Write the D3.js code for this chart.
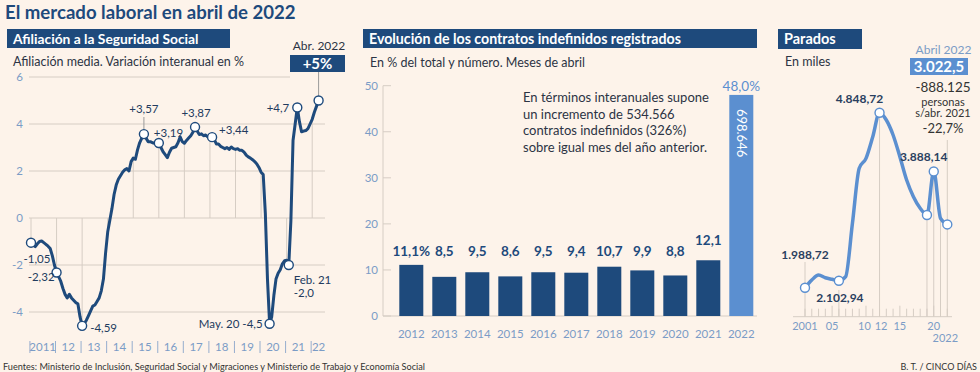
<!DOCTYPE html>
<html><head><meta charset="utf-8">
<script src="https://cdn.jsdelivr.net/npm/d3@7"></script>
<style>
body{margin:0;background:#fdf3ea;}
svg{display:block;font-family:Lato,"Open Sans",sans-serif;}
</style>
</head><body><svg id="c" width="980" height="372"></svg>
<script>
// ---------- DATA ----------
// Afiliación: variación interanual (%), mensual desde enero 2011 hasta abril 2022
const afilValues = [
 -1.05,-1.15,-1.22,-1.1,-1.0,-0.98,-1.05,-1.12,-1.2,-1.3,-1.6,-2.0,
 -2.32,-2.5,-2.7,-3.0,-3.25,-3.4,-3.25,-3.4,-3.5,-3.6,-3.65,-4.2,
 -4.59,-4.5,-4.35,-4.15,-3.95,-3.75,-3.7,-3.55,-3.4,-3.1,-2.6,-1.5,
 -0.6,-0.1,0.4,1.0,1.4,1.65,1.8,1.95,2.05,2.1,2.0,2.4,
 2.55,2.5,2.9,3.2,3.4,3.57,3.4,3.25,3.25,3.2,3.18,3.25,
 3.19,3.0,2.82,2.7,2.57,2.8,2.97,3.0,3.03,3.2,3.45,3.25,
 3.18,3.3,3.4,3.5,3.65,3.87,3.7,3.55,3.58,3.5,3.53,3.45,
 3.5,3.44,3.35,3.15,3.15,3.05,3.0,2.95,3.0,2.92,3.02,2.95,
 2.92,2.95,2.88,2.88,2.8,2.68,2.6,2.55,2.48,2.4,2.3,2.15,
 1.95,1.85,0.2,-2.6,-4.5,-4.2,-3.3,-2.6,-2.35,-2.2,-1.95,-1.82,
 -1.8,-2.0,-0.1,3.3,4.0,4.7,4.1,3.67,3.7,3.72,3.8,4.0,
 4.2,4.5,4.75,5.0
];
const afilYearLabels = ["2011","12","13","14","15","16","17","18","19","20","21","22"];
const afilTicks = [-4,-2,0,2,4,6];
const afilMarkIdx = [0,12,24,53,60,77,85,112,121,125,135];
const afilMarkText = ["-1,05","-2,32","-4,59","+3,57","+3,19","+3,87","+3,44","May. 20 -4,5","Feb. 21","+4,7",""];

const contYears = ["2012","2013","2014","2015","2016","2017","2018","2019","2020","2021","2022"];
const contPct = [11.1,8.5,9.5,8.6,9.5,9.4,10.7,9.9,8.8,12.1,48.0];
const contLabels = ["11,1%","8,5","9,5","8,6","9,5","9,4","10,7","9,9","8,8","12,1","48,0%"];
const contTicks = [0,10,20,30,40,50];

const parYears = [2001,2002,2003,2004,2005,2006,2007,2008,2009,2010,2011,2012,2013,2014,2015,2016,2017,2018,2019,2020,2021,2022];
const parValues = [1988.72,2114,2196,2152,2126,2102.94,2170,3041,3940,4103,4456,4848.72,4729,4484,4130,3749,3476,3286,3177,3888.14,3123,3022.5];
const parTickLabels = [{y:2001,t:"2001",dx:0},{y:2005,t:"05",dx:0},{y:2010,t:"10",dx:-1.5},{y:2012,t:"12",dx:1.5},{y:2015,t:"15",dx:0},{y:2020,t:"20",dx:0}];

// ---------- STYLE ----------
const DARK = "#1e4a7c", LIGHT = "#5b8fd0", AXT = "#7b9cc6", GRID = "#d6cdc4", TXT = "#2c3444";
const svg = d3.select("#c");
svg.append("rect").attr("width",980).attr("height",372).attr("fill","#fdf3ea");

// Title
svg.append("text").attr("x",5).attr("y",19).attr("fill",DARK)
  .attr("font-size",18.6).attr("font-weight",700).text("El mercado laboral en abril de 2022");

function header(x,w,h,label,fs){
  svg.append("rect").attr("x",x).attr("y",29).attr("width",w).attr("height",h).attr("fill",DARK);
  svg.append("text").attr("x",x+6).attr("y",29+h/2+5).attr("fill","#fff")
    .attr("font-size",fs).attr("font-weight",700).text(label);
}
header(7,223,19,"Afiliación a la Seguridad Social",13.8);
header(363,394,19,"Evolución de los contratos indefinidos registrados",14.2);
header(778,84,20,"Parados",14.5);

// ---------- LEFT PANEL ----------
const L = svg.append("g");
L.append("text").attr("x",13).attr("y",66).attr("fill",TXT).attr("font-size",12.5)
 .text("Afiliación media. Variación interanual en %");
const xA = d3.scaleLinear().domain([0,135]).range([31,318.6]);
const yA = d3.scaleLinear().domain([-4,6]).range([312,77]);

afilTicks.forEach(t=>{
  L.append("line").attr("x1",29).attr("x2",t===6?290:325).attr("y1",yA(t)).attr("y2",yA(t))
   .attr("stroke",GRID).attr("stroke-width",1);
  L.append("text").attr("x",23).attr("y",yA(t)+4).attr("text-anchor","end")
   .attr("fill",AXT).attr("font-size",11.5).text(t);
});
// year drop lines from zero to curve
for(let k=0;k<12;k++){
  const i=k*12;
  L.append("line").attr("x1",xA(i)).attr("x2",xA(i)).attr("y1",yA(0)).attr("y2",yA(afilValues[i]))
   .attr("stroke",GRID).attr("stroke-width",1);
}
// x-axis year labels and separators
afilYearLabels.forEach((lab,k)=>{
  const x0 = xA(k*12-0.5);
  L.append("line").attr("x1",x0).attr("x2",x0).attr("y1",341).attr("y2",353)
   .attr("stroke",AXT).attr("stroke-width",0.8);
  const cx = k===11 ? xA(k*12+3) : xA(k*12+5.5);
  L.append("text").attr("x",cx).attr("y",351).attr("text-anchor","middle")
   .attr("fill",AXT).attr("font-size",11.5).text(lab);
});

// leader lines
L.append("line").attr("x1",xA(53)).attr("x2",xA(53)).attr("y1",117).attr("y2",yA(3.57)-4)
 .attr("stroke","#9a9a9a").attr("stroke-width",1);
L.append("line").attr("x1",xA(135)).attr("x2",xA(135)).attr("y1",72).attr("y2",yA(5.0)-4)
 .attr("stroke","#9a9a9a").attr("stroke-width",1);

L.append("path").datum(afilValues)
 .attr("d",d3.line().x((d,i)=>xA(i)).y(d=>yA(d)))
 .attr("fill","none").attr("stroke",DARK).attr("stroke-width",3).attr("stroke-linejoin","round");

const markOff = [
  {dx:6,dy:20,a:"middle"},{dx:-2,dy:8,a:"end"},{dx:8,dy:6,a:"start"},
  {dx:0,dy:-21,a:"middle"},{dx:-5,dy:-6,a:"start"},{dx:1,dy:-10,a:"middle"},
  {dx:7,dy:-3,a:"start"},{dx:-7,dy:4,a:"end"},{dx:5,dy:19,a:"start"},
  {dx:-8,dy:4,a:"end"},{dx:0,dy:0,a:"start"}
];
afilMarkIdx.forEach((i,k)=>{
  const x=xA(i), y=yA(afilValues[i]);
  L.append("circle").attr("cx",x).attr("cy",y).attr("r",4.5)
   .attr("fill","#fff").attr("stroke",DARK).attr("stroke-width",1.4);
  const o=markOff[k];
  if(afilMarkText[k]) L.append("text").attr("x",x+o.dx).attr("y",y+o.dy).attr("text-anchor",o.a)
   .attr("fill","#223b5e").attr("font-size",11.5).text(afilMarkText[k]);
});
L.append("text").attr("x",xA(121)+5).attr("y",yA(-2.0)+32).attr("fill","#223b5e")
 .attr("font-size",11.5).text("-2,0");
// +5% box
L.append("text").attr("x",319).attr("y",50).attr("text-anchor","middle").attr("fill",TXT)
 .attr("font-size",12).text("Abr. 2022");
L.append("rect").attr("x",290).attr("y",55).attr("width",55).attr("height",17).attr("fill",DARK);
L.append("text").attr("x",317.5).attr("y",69).attr("text-anchor","middle").attr("fill","#fff")
 .attr("font-size",15).attr("font-weight",700).text("+5%");

// ---------- MIDDLE PANEL ----------
const M = svg.append("g");
M.append("text").attr("x",370).attr("y",67).attr("fill",TXT).attr("font-size",12.5)
 .text("En % del total y número. Meses de abril");
const xB = d3.scaleBand().domain(contYears).range([394.8,757.8]).paddingInner(0.2727).paddingOuter(0.13636);
const yB = d3.scaleLinear().domain([0,50]).range([316,85.7]);
M.append("line").attr("x1",383).attr("x2",383).attr("y1",yB(0)).attr("y2",yB(50)).attr("stroke",GRID);
contTicks.forEach(t=>{
  M.append("line").attr("x1",383).attr("x2",391).attr("y1",yB(t)).attr("y2",yB(t)).attr("stroke",GRID);
  M.append("text").attr("x",378).attr("y",yB(t)+4).attr("text-anchor","end")
   .attr("fill",AXT).attr("font-size",11.5).text(t);
});
M.append("line").attr("x1",383).attr("x2",757).attr("y1",yB(0)).attr("y2",yB(0)).attr("stroke",GRID);
M.selectAll("rect.bar").data(contYears).enter().append("rect")
 .attr("x",d=>xB(d)).attr("width",xB.bandwidth())
 .attr("y",(d,i)=>yB(contPct[i])).attr("height",(d,i)=>yB(0)-yB(contPct[i]))
 .attr("fill",(d,i)=>i===10?LIGHT:DARK);
contYears.forEach((d,i)=>{
  const cx = xB(d)+xB.bandwidth()/2;
  let y, fill=DARK, fw=700;
  if(i===10){ y=yB(contPct[i])-4; fill=LIGHT; fw=400; }
  else if(contPct[i]>12){ y=yB(contPct[i])-15; }
  else { y=255.5; }
  M.append("text").attr("x",cx).attr("y",y).attr("text-anchor","middle").attr("fill",fill)
   .attr("font-size",13.5).attr("font-weight",fw).text(contLabels[i]);
  M.append("text").attr("x",cx).attr("y",337.5).attr("text-anchor","middle")
   .attr("fill",AXT).attr("font-size",11.5).text(d);
});
const bx = xB("2022")+xB.bandwidth()/2;
M.append("text").attr("transform",`translate(${bx-4.5},${yB(48)+14}) rotate(90)`)
 .attr("fill","#fff").attr("font-size",13).text("698.646");
const note = ["En términos interanuales supone","un incremento de 534.566","contratos indefinidos (326%)","sobre igual mes del año anterior."];
note.forEach((t,k)=>{
  M.append("text").attr("x",523).attr("y",102+k*16.5).attr("fill",TXT).attr("font-size",13).text(t);
});

// ---------- RIGHT PANEL ----------
const R = svg.append("g");
R.append("text").attr("x",785).attr("y",66).attr("fill",TXT).attr("font-size",12.5).text("En miles");
const xC = d3.scaleLinear().domain([2001,2022]).range([805,947.3]);
const yC = d3.scaleLinear().domain([1988.72,4848.72]).range([287.7,112.7]);
const baseY = 316.7;
R.append("line").attr("x1",793).attr("x2",952).attr("y1",baseY).attr("y2",baseY).attr("stroke",GRID);
parYears.forEach(y=>{
  const tall = (y%5===0);
  R.append("line").attr("x1",xC(y)).attr("x2",xC(y)).attr("y1",baseY).attr("y2",baseY-(tall?11:8))
   .attr("stroke",GRID);
});
const dropLines = [{y:2001,top:262},{y:2006,top:290},{y:2012,top:null},{y:2019,top:null},{y:2020,top:null},{y:2021,top:null},{y:2022,top:140}];
dropLines.forEach(d=>{
  const i = parYears.indexOf(d.y);
  const top = d.top!==null ? d.top : yC(parValues[i]);
  R.append("line").attr("x1",xC(d.y)).attr("x2",xC(d.y)).attr("y1",top).attr("y2",baseY).attr("stroke",GRID);
});
parTickLabels.forEach(d=>{
  R.append("text").attr("x",xC(d.y)+d.dx).attr("y",330).attr("text-anchor","middle")
   .attr("fill",AXT).attr("font-size",11).text(d.t);
});
R.append("text").attr("x",xC(2022)-2).attr("y",341.5).attr("text-anchor","middle")
 .attr("fill",AXT).attr("font-size",11).text("2022");
R.append("path").datum(parValues)
 .attr("d",d3.line().x((d,i)=>xC(parYears[i])).y(d=>yC(d)).curve(d3.curveMonotoneX))
 .attr("fill","none").attr("stroke",LIGHT).attr("stroke-width",3.5).attr("stroke-linejoin","round");
const parMarks = [{y:2001,t:"1.988,72",dx:0,dy:-29},{y:2006,t:"2.102,94",dx:1,dy:21},{y:2012,t:"4.848,72",dx:-20,dy:-10},{y:2019,t:"",dx:0,dy:0},{y:2020,t:"3.888,14",dx:-10,dy:-10},{y:2022,t:"",dx:0,dy:0}];
parMarks.forEach(m=>{
  const i=parYears.indexOf(m.y), x=xC(m.y), y=yC(parValues[i]);
  R.append("circle").attr("cx",x).attr("cy",y).attr("r",4.5).attr("fill","#fff")
   .attr("stroke",LIGHT).attr("stroke-width",1.4);
  if(m.t) R.append("text").attr("x",x+m.dx).attr("y",y+m.dy).attr("text-anchor","middle")
   .attr("fill","#2a3f5f").attr("font-size",12).attr("font-weight",700).text(m.t);
});
R.append("text").attr("x",943.5).attr("y",54).attr("text-anchor","middle").attr("fill",AXT)
 .attr("font-size",12).text("Abril 2022");
R.append("rect").attr("x",910).attr("y",58).attr("width",58).attr("height",17).attr("fill",LIGHT);
R.append("text").attr("x",939).attr("y",72).attr("text-anchor","middle").attr("fill","#fff")
 .attr("font-size",15).attr("font-weight",700).text("3.022,5");
R.append("text").attr("x",943).attr("y",92).attr("text-anchor","middle").attr("fill","#333")
 .attr("font-size",13.5).text("-888.125");
R.append("text").attr("x",943).attr("y",105.5).attr("text-anchor","middle").attr("fill","#333")
 .attr("font-size",11).text("personas");
R.append("text").attr("x",943).attr("y",117).attr("text-anchor","middle").attr("fill","#333")
 .attr("font-size",11).text("s/abr. 2021");
R.append("text").attr("x",943).attr("y",133).attr("text-anchor","middle").attr("fill","#333")
 .attr("font-size",13).text("-22,7%");

// ---------- FOOTER ----------
svg.append("text").attr("x",3).attr("y",370).attr("fill","#333").attr("font-size",9)
 .attr("textLength",422).attr("lengthAdjust","spacingAndGlyphs")
 .text("Fuentes: Ministerio de Inclusión, Seguridad Social y Migraciones y Ministerio de Trabajo y Economía Social");
svg.append("text").attr("x",977).attr("y",370).attr("text-anchor","end").attr("fill","#333")
 .attr("font-size",9).text("B. T. / CINCO DÍAS");
</script></body></html>
